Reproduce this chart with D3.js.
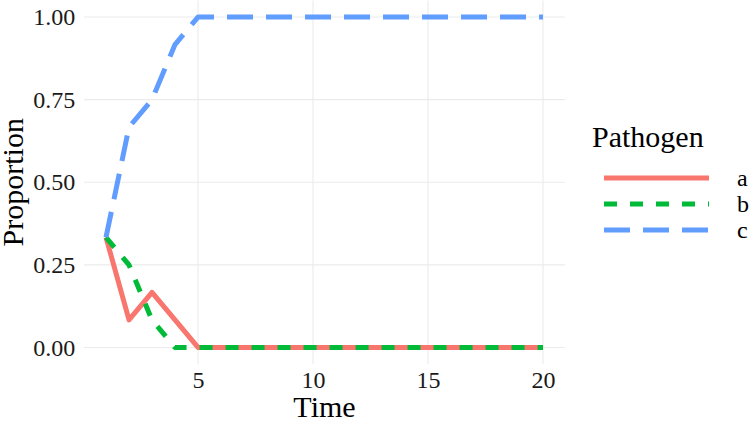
<!DOCTYPE html>
<html>
<head>
<meta charset="utf-8">
<script src="https://cdn.jsdelivr.net/npm/d3@7"></script>
<style>
  html, body { margin: 0; padding: 0; background: #fff; }
  svg { display: block; }
  svg text { font-family: "Liberation Serif", "Times New Roman", serif !important; }
</style>
</head>
<body>
<svg id="chart" width="750" height="421"></svg>
<script>
// ---- data ----
const time = [1,2,3,4,5,6,7,8,9,10,11,12,13,14,15,16,17,18,19,20];
const pathogenA = [1/3, 1/12, 1/6, 1/12, 0, 0, 0, 0, 0, 0, 0, 0, 0, 0, 0, 0, 0, 0, 0, 0];
const pathogenB = [1/3, 1/4, 1/12, 0, 0, 0, 0, 0, 0, 0, 0, 0, 0, 0, 0, 0, 0, 0, 0, 0];
const pathogenC = [1/3, 2/3, 3/4, 11/12, 1, 1, 1, 1, 1, 1, 1, 1, 1, 1, 1, 1, 1, 1, 1, 1];
const seriesNames = ["a", "b", "c"];
const xTicks = [5, 10, 15, 20];
const yTicks = [0, 0.25, 0.5, 0.75, 1];
const yTickLabels = ["0.00", "0.25", "0.50", "0.75", "1.00"];

const series = [
  { name: seriesNames[0], values: pathogenA, color: "#F8766D", dash: null },
  { name: seriesNames[1], values: pathogenB, color: "#00BA38", dash: "13,13" },
  { name: seriesNames[2], values: pathogenC, color: "#619CFF", dash: "26,13" }
];

const FONT = "'Liberation Serif', 'Times New Roman', serif";
const svg = d3.select("#chart");

// panel geometry (ggplot-style 5% expansion)
const xMin = d3.min(time), xMax = d3.max(time);
const xPad = (xMax - xMin) * 0.05;
const x = d3.scaleLinear().domain([xMin - xPad, xMax + xPad]).range([84.15, 564.85]);
const y = d3.scaleLinear().domain([-0.05, 1.05]).range([364, 0.5]);

const panelL = x.range()[0], panelR = x.range()[1];
const panelT = y.range()[1], panelB = y.range()[0];

// gridlines
const grid = svg.append("g");
grid.selectAll("line.h").data(yTicks).enter().append("line")
  .attr("x1", panelL).attr("x2", panelR)
  .attr("y1", d => y(d)).attr("y2", d => y(d))
  .attr("stroke", "#EBEBEB").attr("stroke-width", 1.1);
grid.selectAll("line.v").data(xTicks).enter().append("line")
  .attr("y1", panelT).attr("y2", panelB)
  .attr("x1", d => x(d)).attr("x2", d => x(d))
  .attr("stroke", "#EBEBEB").attr("stroke-width", 1.1);

// axes
const xAxis = svg.append("g").attr("transform", `translate(0,${panelB})`)
  .call(d3.axisBottom(x).tickValues(xTicks).tickSize(0).tickPadding(7).tickFormat(d3.format("d")));
xAxis.select(".domain").remove();
xAxis.attr("font-family", FONT).attr("font-size", 24);
xAxis.selectAll("text").attr("font-family", FONT).attr("font-size", 24).attr("fill", "#1a1a1a");

const yAxis = svg.append("g").attr("transform", `translate(${panelL},0)`)
  .call(d3.axisLeft(y).tickValues(yTicks).tickSize(0).tickPadding(9)
    .tickFormat((d, i) => yTickLabels[i]));
yAxis.select(".domain").remove();
yAxis.attr("font-family", FONT).attr("font-size", 24);
yAxis.selectAll("text").attr("font-family", FONT).attr("font-size", 24).attr("fill", "#1a1a1a");

// axis titles
svg.append("text").attr("x", (panelL + panelR) / 2).attr("y", 417)
  .attr("text-anchor", "middle").attr("font-family", FONT).attr("font-size", 30).attr("fill", "#000").text("Time");
svg.append("text").attr("transform", `translate(23,${(panelT + panelB) / 2}) rotate(-90)`)
  .attr("text-anchor", "middle").attr("font-family", FONT).attr("font-size", 30).attr("fill", "#000").text("Proportion");

// lines
const line = d3.line().x((d, i) => x(time[i])).y(d => y(d));
svg.append("g").selectAll("path").data(series).enter().append("path")
  .attr("d", d => line(d.values))
  .attr("fill", "none")
  .attr("stroke", d => d.color)
  .attr("stroke-width", 5)
  .attr("stroke-linejoin", "round")
  .attr("stroke-linecap", "butt")
  .attr("stroke-dasharray", d => d.dash);

// legend
const legend = svg.append("g").attr("font-family", FONT);
legend.append("text").attr("x", 592).attr("y", 147).attr("font-size", 30).attr("fill", "#000").text("Pathogen");
const keyY = d3.scalePoint().domain(seriesNames).range([178, 230]);
const items = legend.selectAll("g.item").data(series).enter().append("g");
items.append("line")
  .attr("x1", 604).attr("x2", 709)
  .attr("y1", d => keyY(d.name)).attr("y2", d => keyY(d.name))
  .attr("stroke", d => d.color).attr("stroke-width", 5)
  .attr("stroke-dasharray", d => d.dash);
items.append("text")
  .attr("x", 737).attr("y", d => keyY(d.name) + 8)
  .attr("font-size", 24).attr("fill", "#000").text(d => d.name);
</script>
</body>
</html>
